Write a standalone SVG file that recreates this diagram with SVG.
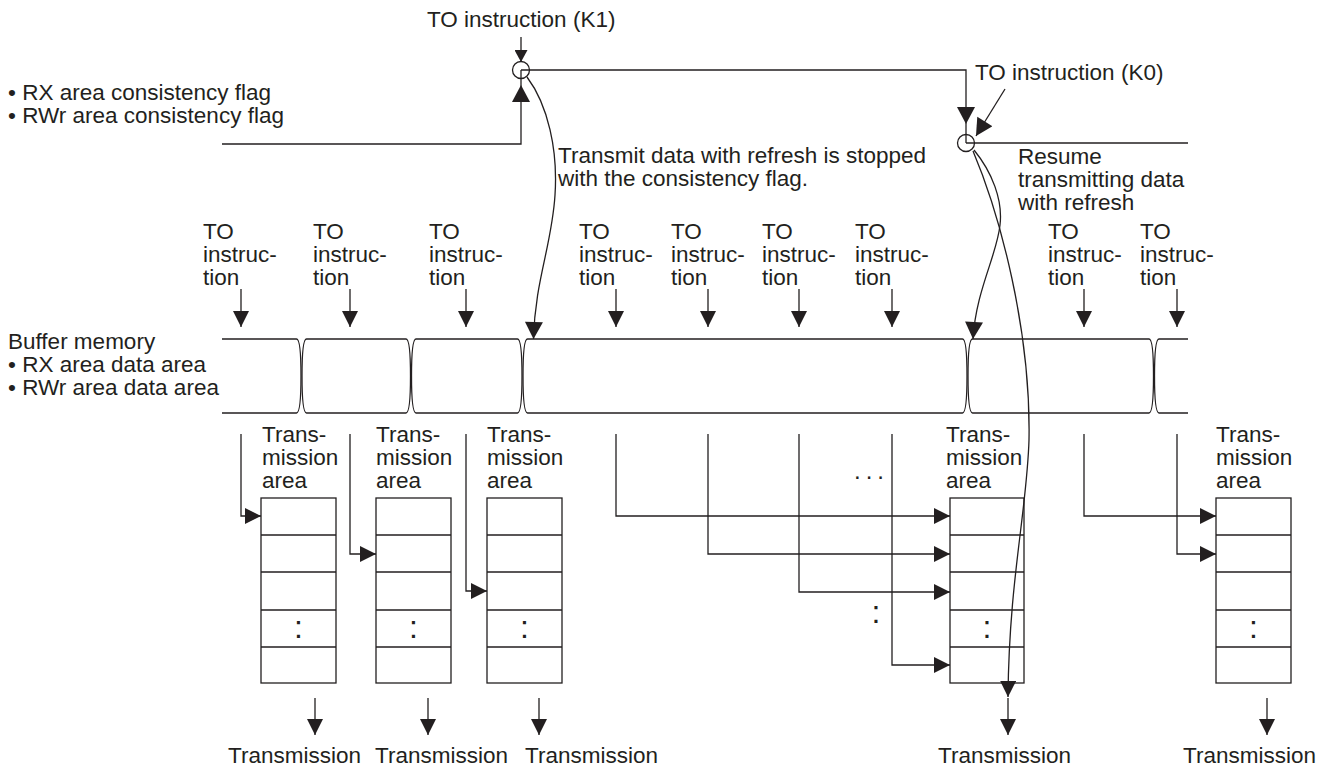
<svg xmlns="http://www.w3.org/2000/svg" width="1332" height="772" viewBox="0 0 1332 772">
<style>
.t{font-family:"Liberation Sans",Arial,Helvetica,sans-serif;font-size:22.5px;fill:#231f20}
.l{fill:none;stroke:#231f20;stroke-width:1.3}
.dot{font-family:"Liberation Sans",Arial,sans-serif;fill:#231f20}
</style>
<defs>
<marker id="am" markerUnits="userSpaceOnUse" markerWidth="16" markerHeight="16" viewBox="0 0 15 15" refX="15" refY="7.5" orient="auto"><path d="M0,0L15,7.5L0,15Z" fill="#231f20"/></marker>
<marker id="ab" markerUnits="userSpaceOnUse" markerWidth="18" markerHeight="18" viewBox="0 0 17 18" refX="17" refY="9" orient="auto"><path d="M0,0L17,9L0,18Z" fill="#231f20"/></marker>
<marker id="as" markerUnits="userSpaceOnUse" markerWidth="13" markerHeight="13" viewBox="0 0 12 13" refX="12" refY="6.5" orient="auto"><path d="M0,0L12,6.5L0,13Z" fill="#231f20"/></marker>
</defs>
<rect width="1332" height="772" fill="#fff"/>

<g id="labels-top">
<text class="t" x="427" y="27">TO instruction (K1)</text>
<text class="t" x="8" y="100">• RX area consistency flag</text>
<text class="t" x="8" y="123">• RWr area consistency flag</text>
<text class="t" x="558" y="163">Transmit data with refresh is stopped</text>
<text class="t" x="558" y="186">with the consistency flag.</text>
<text class="t" x="975" y="80">TO instruction (K0)</text>
<text class="t" x="1018" y="164">Resume</text>
<text class="t" x="1018" y="187">transmitting data</text>
<text class="t" x="1018" y="210">with refresh</text>
</g>

<g id="k1-circle"><circle class="l" cx="521" cy="70" r="8.5"/></g>
<g id="k0-circle"><circle class="l" cx="966" cy="143" r="8.5"/></g>

<g id="to-labels">
<text class="t" x="203" y="239">TO<tspan x="203" y="262">instruc-</tspan><tspan x="203" y="285">tion</tspan></text>
<text class="t" x="313" y="239">TO<tspan x="313" y="262">instruc-</tspan><tspan x="313" y="285">tion</tspan></text>
<text class="t" x="429" y="239">TO<tspan x="429" y="262">instruc-</tspan><tspan x="429" y="285">tion</tspan></text>
<text class="t" x="579" y="239">TO<tspan x="579" y="262">instruc-</tspan><tspan x="579" y="285">tion</tspan></text>
<text class="t" x="671" y="239">TO<tspan x="671" y="262">instruc-</tspan><tspan x="671" y="285">tion</tspan></text>
<text class="t" x="762" y="239">TO<tspan x="762" y="262">instruc-</tspan><tspan x="762" y="285">tion</tspan></text>
<text class="t" x="855" y="239">TO<tspan x="855" y="262">instruc-</tspan><tspan x="855" y="285">tion</tspan></text>
<text class="t" x="1048" y="239">TO<tspan x="1048" y="262">instruc-</tspan><tspan x="1048" y="285">tion</tspan></text>
<text class="t" x="1140" y="239">TO<tspan x="1140" y="262">instruc-</tspan><tspan x="1140" y="285">tion</tspan></text>
</g>

<g id="buffer-memory">
<text class="t" x="8" y="349">Buffer memory</text>
<text class="t" x="8" y="372">• RX area data area</text>
<text class="t" x="8" y="395">• RWr area data area</text>
<path class="l" d="M222,339 H296.5 C299.5,339 301,350 301,376 C301,402 299.5,413 296.5,413 H222"/>
<path class="l" d="M306.5,339 H406 C409,339 410.5,350 410.5,376 C410.5,402 409,413 406,413 H306.5 C303.5,413 302,402 302,376 C302,350 303.5,339 306.5,339 Z"/>
<path class="l" d="M416,339 H517.5 C520.5,339 522,350 522,376 C522,402 520.5,413 517.5,413 H416 C413,413 411.5,402 411.5,376 C411.5,350 413,339 416,339 Z"/>
<path class="l" d="M527.5,339 H962.5 C965.5,339 967,350 967,376 C967,402 965.5,413 962.5,413 H527.5 C524.5,413 523,402 523,376 C523,350 524.5,339 527.5,339 Z"/>
<path class="l" d="M972.5,339 H1149 C1152,339 1153.5,350 1153.5,376 C1153.5,402 1152,413 1149,413 H972.5 C969.5,413 968,402 968,376 C968,350 969.5,339 972.5,339 Z"/>
<path class="l" d="M1188,339 H1159 C1156,339 1154.5,350 1154.5,376 C1154.5,402 1156,413 1159,413 H1188"/>
</g>

<g id="area1">
<text class="t" x="262" y="442">Trans-<tspan x="262" y="465">mission</tspan><tspan x="262" y="488">area</tspan></text>
<rect class="l" x="261" y="498" width="75" height="185"/>
<path class="l" d="M261,535H336M261,572H336M261,610H336M261,647H336"/>
<text class="dot" x="298.5" y="637.5" font-size="32" text-anchor="middle">:</text>
</g>
<g id="area2">
<text class="t" x="376" y="442">Trans-<tspan x="376" y="465">mission</tspan><tspan x="376" y="488">area</tspan></text>
<rect class="l" x="376" y="498" width="75" height="185"/>
<path class="l" d="M376,535H451M376,572H451M376,610H451M376,647H451"/>
<text class="dot" x="413.5" y="637.5" font-size="32" text-anchor="middle">:</text>
</g>
<g id="area3">
<text class="t" x="487" y="442">Trans-<tspan x="487" y="465">mission</tspan><tspan x="487" y="488">area</tspan></text>
<rect class="l" x="487" y="498" width="75" height="185"/>
<path class="l" d="M487,535H562M487,572H562M487,610H562M487,647H562"/>
<text class="dot" x="524.5" y="637.5" font-size="32" text-anchor="middle">:</text>
</g>
<g id="area4">
<text class="t" x="946" y="442">Trans-<tspan x="946" y="465">mission</tspan><tspan x="946" y="488">area</tspan></text>
<rect class="l" x="950" y="498" width="74" height="185"/>
<path class="l" d="M950,535H1024M950,572H1024M950,610H1024M950,647H1024"/>
<text class="dot" x="987" y="637.5" font-size="32" text-anchor="middle">:</text>
</g>
<g id="area5">
<text class="t" x="1216" y="442">Trans-<tspan x="1216" y="465">mission</tspan><tspan x="1216" y="488">area</tspan></text>
<rect class="l" x="1216" y="498" width="75" height="185"/>
<path class="l" d="M1216,535H1291M1216,572H1291M1216,610H1291M1216,647H1291"/>
<text class="dot" x="1253.5" y="637.5" font-size="32" text-anchor="middle">:</text>
</g>

<g id="ellipsis">
<text class="dot" x="854" y="478.5" font-size="24" letter-spacing="5">...</text>
<text class="dot" x="876" y="623" font-size="32" text-anchor="middle">:</text>
</g>

<g id="transmission-labels">
<text class="t" x="228" y="763">Transmission</text>
<text class="t" x="375" y="763">Transmission</text>
<text class="t" x="525" y="763">Transmission</text>
<text class="t" x="938" y="763">Transmission</text>
<text class="t" x="1183" y="763">Transmission</text>
</g>

<g id="connectors">
<line class="l" x1="521" y1="37" x2="521" y2="62" marker-end="url(#as)"/>
<path class="l" d="M222,144 H521 V85" marker-end="url(#ab)"/>
<line class="l" x1="521" y1="85" x2="521" y2="70"/>
<path class="l" d="M521,70 H966 V124" marker-end="url(#ab)"/>
<line class="l" x1="966" y1="124" x2="966" y2="143"/>
<line class="l" x1="1005" y1="89" x2="976" y2="136" marker-end="url(#ab)"/>
<line class="l" x1="966" y1="143" x2="1188" y2="143"/>
<path class="l" d="M527,77 C548,105 558,150 555,195 C552,245 535,280 533.5,339" marker-end="url(#ab)"/>
<path class="l" d="M974,150 C992,172 1003,200 1000,225 C997,255 976,290 973,339" marker-end="url(#ab)"/>
<path class="l" d="M973,151 C1000,215 1031,330 1029,440 C1027,510 1009,580 1008,697" marker-end="url(#am)"/>
<g marker-end="url(#am)">
<line class="l" x1="241" y1="289" x2="241" y2="327"/>
<line class="l" x1="350" y1="289" x2="350" y2="327"/>
<line class="l" x1="466" y1="289" x2="466" y2="327"/>
<line class="l" x1="616" y1="289" x2="616" y2="327"/>
<line class="l" x1="708" y1="289" x2="708" y2="327"/>
<line class="l" x1="799" y1="289" x2="799" y2="327"/>
<line class="l" x1="892" y1="289" x2="892" y2="327"/>
<line class="l" x1="1084" y1="289" x2="1084" y2="327"/>
<line class="l" x1="1177" y1="289" x2="1177" y2="327"/>
<path class="l" d="M241,434 V516 H261"/>
<path class="l" d="M350,434 V554 H376"/>
<path class="l" d="M466,434 V591 H487"/>
<path class="l" d="M616,434 V516 H950"/>
<path class="l" d="M708,434 V554 H950"/>
<path class="l" d="M799,434 V592 H950"/>
<path class="l" d="M892,434 V665 H950"/>
<path class="l" d="M1084,434 V516 H1216"/>
<path class="l" d="M1177,434 V554 H1216"/>
<line class="l" x1="315" y1="698" x2="315" y2="735"/>
<line class="l" x1="428" y1="698" x2="428" y2="735"/>
<line class="l" x1="539" y1="698" x2="539" y2="735"/>
<line class="l" x1="1008" y1="698" x2="1008" y2="735"/>
<line class="l" x1="1267" y1="698" x2="1267" y2="735"/>
</g>
</g>
</svg>
